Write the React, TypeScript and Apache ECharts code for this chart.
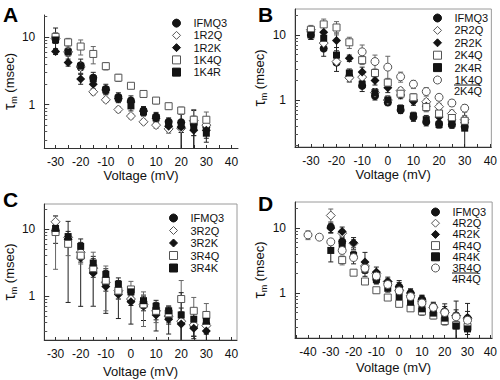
import React, { useEffect, useRef } from 'react';
import * as echarts from 'echarts';

// ---------- data ----------
const voltages = [-30, -25, -20, -15, -10, -5, 0, 5, 10, 15, 20, 25, 30];
const voltagesB6 = [-10, -5, 0, 5, 10, 15, 20, 25, 30];
const voltagesD4 = [-25, -20, -15, -10, -5, 0, 5, 10, 15, 20, 25, 30];
const voltagesD6 = [-40, -35, -30, -25, -20, -15, -10, -5, 0, 5, 10, 15, 20, 25, 30];

// Panel A
const aIFMQ3 = [10, 6.1, 3.8, 2.5, 1.7, 1.3, 1.15, 0.82, 0.67, 0.56, 0.55, 0.52, 0.47];
const aIFMQ3Err = [3.5, 1.8, 0.9, 0.5, 0.3, 0.2, 0.2, 0.12, 0.1, 0.08, 0.35, 0.3, 0.1];
const a1R2Q = [9.5, 6, 3.6, 1.55, 1.18, 0.85, 0.68, 0.56, 0.5, 0.44, 0.45, 0.58, 0.5];
const a1R2QErr = [1, 0.6, 0.4, 0.15, 0.1, 0.08, 0.06, 0.05, 0.05, 0.06, 0.06, 0.1, 0.08];
const a1R2K = [6.1, 4.2, 2.4, 2.0, 1.65, 1.22, 1.1, 0.8, 0.63, 0.48, 0.47, 0.42, 0.42];
const a1R2KErr = [0.6, 0.5, 0.4, 0.3, 0.2, 0.15, 0.15, 0.1, 0.08, 0.08, 0.25, 0.2, 0.1];
const a1K4Q = [10, 8.3, 7.2, 5.6, 3.7, 2.5, 1.9, 1.44, 1.15, 0.95, 0.82, 0.6, 0.6];
const a1K4QErr = [1.5, 1.2, 1.8, 1.6, 0.45, 0.3, 0.15, 0.1, 0.12, 0.1, 0.1, 0.25, 0.18];
const a1K4R = [9, 6, 3.7, 2.4, 1.65, 1.25, 0.96, 0.78, 0.64, 0.53, 0.49, 0.47, 0.38];
const a1K4RErr = [1, 0.8, 0.5, 0.35, 0.2, 0.15, 0.15, 0.1, 0.08, 0.08, 0.1, 0.12, 0.1];

// Panel B
const bIFMQ3 = [10, 6.2, 3.75, 2.3, 1.65, 1.15, 0.92, 0.7, 0.55, 0.46, 0.43, 0.42, 0.39];
const bIFMQ3Err = [1.5, 1.5, 1.0, 0.4, 0.3, 0.15, 0.1, 0.08, 0.08, 0.06, 0.05, 0.05, 0.05];
const b2R2Q = [12, 7.5, 3.9, 2.2, 2.25, 1.3, 1.0, 1.4, 1.0, 0.94, 0.79, 0.62, 0.5];
const b2R2QErr = [1.5, 1.2, 0.5, 0.3, 0.3, 0.2, 0.15, 0.15, 0.12, 0.1, 0.1, 0.08, 0.08];
const b2R2K = [11.2, 11, 8.2, 4.4, 2.7, 2.0, 1.55, 1.2, 0.95, 0.8, 0.55, 0.5, 0.45];
const b2R2KErr = [1.5, 3, 2.5, 0.5, 0.5, 0.3, 0.25, 0.15, 0.12, 0.12, 0.08, 0.08, 0.08];
const b2K4Q = [12, 14.5, 13, 7.7, 4.1, 2.6, 1.85, 1.25, 1.1, 0.78, 0.62, 0.53, 0.48];
const b2K4QErr = [2, 3, 3, 1.5, 0.6, 0.4, 0.3, 0.2, 0.15, 0.12, 0.1, 0.08, 0.08];
const b2K4R = [10, 8.9, 4.9, 2.6, 1.75, 1.3, 1.0, 0.74, 0.57, 0.5, 0.42, 0.43, 0.37];
const b2K4RErr = [1.5, 2, 1.5, 0.4, 0.25, 0.2, 0.15, 0.1, 0.08, 0.08, 0.05, 0.06, 0.3];
const bRatio = [5.5, 3.9, 3.2, 2.28, 1.75, 1.35, 1.1, 0.9, 0.75];
const bRatioErr = [1.5, 1.0, 1.5, 0.4, 0.25, 0.2, 0.12, 0.1, 0.1];

// Panel C
const cIFMQ3 = [9.1, 6.9, 3.9, 2.3, 1.55, 1.16, 0.87, 0.73, 0.58, 0.49, 0.41, 0.35, 0.38];
const cIFMQ3Err = [3, 6.1, 3.2, 1.6, 1.0, 0.7, 0.49, 0.3, 0.28, 0.22, 0.25, 0.1, 0.1];
const c3R2Q = [12.8, 7.5, 4.5, 2.6, 1.6, 1.2, 0.9, 0.75, 0.6, 0.5, 0.42, 0.37, 0.36];
const c3R2QErr = [3, 1, 0.6, 0.3, 0.2, 0.12, 0.1, 0.1, 0.08, 0.06, 0.05, 0.05, 0.05];
const c3R2K = [9.5, 7, 3.7, 2.2, 1.38, 1.05, 0.82, 0.7, 0.52, 0.45, 0.38, 0.33, 0.3];
const c3R2KErr = [1, 1, 0.5, 0.3, 0.2, 0.15, 0.1, 0.1, 0.08, 0.07, 0.2, 0.1, 0.08];
const c3R4Q = [9, 6, 4, 2.6, 1.7, 1.2, 1.25, 0.75, 0.6, 0.55, 0.9, 0.6, 0.52];
const c3R4QErr = [6.5, 2, 1, 1.9, 1.1, 0.3, 0.4, 0.4, 0.2, 0.15, 0.8, 0.35, 0.25];
const c3R4K = [10.2, 7.7, 5.5, 3.1, 2.1, 1.5, 1.15, 0.85, 0.7, 0.6, 0.52, 0.45, 0.42];
const c3R4KErr = [1.5, 1.5, 0.8, 0.5, 0.3, 0.2, 0.15, 0.12, 0.1, 0.08, 0.6, 0.2, 0.15];

// Panel D
const dIFMQ3 = [10.3, 6.2, 3.6, 2.4, 1.62, 1.4, 1.25, 1.0, 0.8, 0.62, 0.52, 0.45, 0.41];
const dIFMQ3Err = [2, 1.5, 0.8, 0.4, 0.25, 0.2, 0.3, 0.15, 0.12, 0.1, 0.1, 0.3, 0.28];
const d4R2Q = [15.5, 8.3, 5.8, 2.6, 2.0, 1.5, 1.1, 0.9, 0.75, 0.6, 0.5, 0.45, 0.4];
const d4R2QErr = [4, 1.2, 0.8, 0.3, 0.2, 0.15, 0.1, 0.1, 0.08, 0.06, 0.05, 0.05, 0.05];
const d4R2K = [10, 8.8, 5.9, 3.0, 2.1, 1.5, 1.25, 1.0, 0.8, 0.6, 0.53, 0.45, 0.42];
const d4R2KErr = [1.5, 1.5, 1.2, 1.2, 0.4, 0.25, 0.2, 0.15, 0.12, 0.1, 0.15, 0.1, 0.1];
const d4R4Q = [3.2, 2.05, 1.5, 1.1, 0.85, 0.68, 0.58, 0.52, 0.45, 0.37, 0.32, 0.3];
const d4R4QErr = [0.5, 0.2, 0.15, 0.1, 0.08, 0.06, 0.05, 0.07, 0.05, 0.05, 0.04, 0.04];
const d4R4K = [4.5, 5.2, 3.8, 2.3, 1.6, 1.18, 0.88, 0.72, 0.57, 0.49, 0.41, 0.31, 0.28];
const d4R4KErr = [1.5, 1, 0.5, 0.3, 0.2, 0.15, 0.1, 0.08, 0.06, 0.05, 0.05, 0.15, 0.05];
const dRatio = [7.8, 7.2, 6.1, 4.5, 3.5, 2.4, 1.82, 1.35, 1.08, 0.88, 0.7, 0.6, 0.5, 0.43, 0.38];
const dRatioErr = [1.2, 0.6, 0.6, 0.5, 0.3, 0.2, 0.15, 0.1, 0.08, 0.06, 0.05, 0.04, 0.04, 0.04, 0.03];

// tick labels
const xLabelsABC = [-30, -20, -10, 0, 10, 20, 30, 40];
const xLabelsD = [-40, -30, -20, -10, 0, 10, 20, 30, 40];
const xTicks = [-45, -40, -35, -30, -25, -20, -15, -10, -5, 0, 5, 10, 15, 20, 25, 30, 35, 40];
const yMajor = [1, 10];
const yMinor = [0.2, 0.3, 0.4, 0.5, 0.6, 0.7, 0.8, 0.9, 2, 3, 4, 5, 6, 7, 8, 9, 20];

// ---------- styles ----------
const FONT = '"Liberation Sans", Arial, Helvetica, sans-serif';
const INK = '#141414';
type Sty = { symbol: string; size: number; fill: string; border: string; bar: string };
const ST: Record<string, Sty> = {
  circleF: { symbol: 'circle', size: 8, fill: INK, border: INK, bar: '#222' },
  diamondO: { symbol: 'diamond', size: 9, fill: '#fff', border: '#555', bar: '#666' },
  diamondF: { symbol: 'diamond', size: 9, fill: INK, border: INK, bar: '#222' },
  squareO: { symbol: 'rect', size: 7, fill: '#fff', border: '#555', bar: '#666' },
  squareF: { symbol: 'rect', size: 7, fill: INK, border: INK, bar: '#222' },
  circleO: { symbol: 'circle', size: 8, fill: '#fff', border: '#555', bar: '#666' },
};

type SeriesDef = { name: string; xs: number[]; ys: number[]; es: number[]; st: Sty };
type Panel = {
  letter: string;
  grid: { left: number; top: number; width: number; height: number; show: boolean };
  xMin: number; xMax: number; yMin: number; yMax: number;
  xLabels: number[]; xNameGap: number;
  legend: { left: number; top: number; row: number };
  frac?: { num: string; den: string };
  series: SeriesDef[];
};

const panels: Panel[] = [
  {
    letter: 'A',
    grid: { left: 40, top: 15, width: 198, height: 133, show: false },
    xMin: -34.5, xMax: 42.6, yMin: 0.23, yMax: 21,
    xLabels: xLabelsABC, xNameGap: 20,
    legend: { left: 172, top: 17, row: 12.25 },
    series: [
      { name: 'IFMQ3', xs: voltages, ys: aIFMQ3, es: aIFMQ3Err, st: ST.circleF },
      { name: '1R2Q', xs: voltages, ys: a1R2Q, es: a1R2QErr, st: ST.diamondO },
      { name: '1R2K', xs: voltages, ys: a1R2K, es: a1R2KErr, st: ST.diamondF },
      { name: '1K4Q', xs: voltages, ys: a1K4Q, es: a1K4QErr, st: ST.squareO },
      { name: '1K4R', xs: voltages, ys: a1K4R, es: a1K4RErr, st: ST.squareF },
    ],
  },
  {
    letter: 'B',
    grid: { left: 295, top: 9, width: 197, height: 138, show: true },
    xMin: -36.2, xMax: 40.4, yMin: 0.19, yMax: 25,
    xLabels: xLabelsABC, xNameGap: 19,
    legend: { left: 433, top: 11.8, row: 12.4 },
    frac: { num: '1K4Q', den: '2K4Q' },
    series: [
      { name: 'IFMQ3', xs: voltages, ys: bIFMQ3, es: bIFMQ3Err, st: ST.circleF },
      { name: '2R2Q', xs: voltages, ys: b2R2Q, es: b2R2QErr, st: ST.diamondO },
      { name: '2R2K', xs: voltages, ys: b2R2K, es: b2R2KErr, st: ST.diamondF },
      { name: '2K4Q', xs: voltages, ys: b2K4Q, es: b2K4QErr, st: ST.squareO },
      { name: '2K4R', xs: voltages, ys: b2K4R, es: b2K4RErr, st: ST.squareF },
      { name: '1K4Q/2K4Q', xs: voltagesB6, ys: bRatio, es: bRatioErr, st: ST.circleO },
    ],
  },
  {
    letter: 'C',
    grid: { left: 40, top: 204, width: 197, height: 136, show: true },
    xMin: -34.5, xMax: 42.2, yMin: 0.22, yMax: 23.6,
    xLabels: xLabelsABC, xNameGap: 25,
    legend: { left: 169, top: 211.75, row: 12.5 },
    series: [
      { name: 'IFMQ3', xs: voltages, ys: cIFMQ3, es: cIFMQ3Err, st: ST.circleF },
      { name: '3R2Q', xs: voltages, ys: c3R2Q, es: c3R2QErr, st: ST.diamondO },
      { name: '3R2K', xs: voltages, ys: c3R2K, es: c3R2KErr, st: ST.diamondF },
      { name: '3R4Q', xs: voltages, ys: c3R4Q, es: c3R4QErr, st: ST.squareO },
      { name: '3R4K', xs: voltages, ys: c3R4K, es: c3R4KErr, st: ST.squareF },
    ],
  },
  {
    letter: 'D',
    grid: { left: 295, top: 202, width: 198, height: 136, show: true },
    xMin: -45.7, xMax: 40.8, yMin: 0.203, yMax: 25,
    xLabels: xLabelsD, xNameGap: 23,
    legend: { left: 431, top: 206.4, row: 11.2 },
    frac: { num: '3R4Q', den: '4R4Q' },
    series: [
      { name: 'IFMQ3', xs: voltages, ys: dIFMQ3, es: dIFMQ3Err, st: ST.circleF },
      { name: '4R2Q', xs: voltages, ys: d4R2Q, es: d4R2QErr, st: ST.diamondO },
      { name: '4R2K', xs: voltages, ys: d4R2K, es: d4R2KErr, st: ST.diamondF },
      { name: '4R4Q', xs: voltagesD4, ys: d4R4Q, es: d4R4QErr, st: ST.squareO },
      { name: '4R4K', xs: voltages, ys: d4R4K, es: d4R4KErr, st: ST.squareF },
      { name: '3R4Q/4R4Q', xs: voltagesD6, ys: dRatio, es: dRatioErr, st: ST.circleO },
    ],
  },
];

const LEG_ICON = 8;
const LEG_TEXT_PAD = 8;

function buildOption(): any {
  const grid: any[] = [];
  const xAxis: any[] = [];
  const yAxis: any[] = [];
  const series: any[] = [];
  const legend: any[] = [];
  const graphic: any[] = [];

  panels.forEach((p, pi) => {
    grid.push({ ...p.grid, borderColor: '#9a9a9a', borderWidth: 1 });
    xAxis.push({
      type: 'value', gridIndex: pi, min: p.xMin, max: p.xMax,
      name: 'Voltage (mV)', nameLocation: 'middle', nameGap: p.xNameGap,
      nameTextStyle: { fontSize: 13, color: '#111', fontFamily: FONT },
      axisLine: { show: true, onZero: false, lineStyle: { color: '#333', width: 1 } },
      axisTick: { show: true, inside: true, length: 3, customValues: xTicks, lineStyle: { color: '#333' } },
      axisLabel: { customValues: p.xLabels, margin: 8, fontSize: 12, color: '#111', fontFamily: FONT },
      splitLine: { show: false },
    });
    yAxis.push({
      type: 'log', logBase: 10, gridIndex: pi, position: 'left', min: p.yMin, max: p.yMax,
      name: '{t|τ}{s|m} (msec)', nameLocation: 'middle', nameGap: 20, nameRotate: 90,
      nameTextStyle: {
        fontSize: 13, color: '#111', fontFamily: FONT,
        rich: {
          t: { fontSize: 16, color: '#111', fontFamily: FONT, lineHeight: 18 },
          s: { fontSize: 9, color: '#111', fontFamily: FONT, verticalAlign: 'bottom', lineHeight: 9 },
        },
      },
      axisLine: { show: true, onZero: false, lineStyle: { color: '#333', width: 1 } },
      axisTick: { show: true, inside: true, length: 5, customValues: yMajor, lineStyle: { color: '#333' } },
      axisLabel: { customValues: yMajor, margin: 9, fontSize: 12, color: '#111', fontFamily: FONT, formatter: (v: number) => String(v) },
      splitLine: { show: false },
    });
    yAxis.push({
      type: 'log', logBase: 10, gridIndex: pi, position: 'left', min: p.yMin, max: p.yMax,
      axisLine: { show: false, onZero: false },
      axisTick: { show: true, inside: true, length: 3, customValues: yMinor, lineStyle: { color: '#555' } },
      axisLabel: { show: false },
      splitLine: { show: false },
    });

    // error bars (below symbols)
    p.series.forEach((s) => {
      const data = s.xs.map((x, i) => {
        const lo = s.ys[i] - s.es[i];
        const clamped = lo <= p.yMin;
        const hi = Math.min(s.ys[i] + s.es[i], p.yMax);
        return [x, clamped ? p.yMin : lo, hi, clamped ? 1 : 0];
      });
      const color = s.st.bar;
      series.push({
        type: 'custom', name: s.name + ' err', xAxisIndex: pi, yAxisIndex: pi * 2, z: 2,
        silent: true, encode: { x: 0, y: [1, 2] }, data,
        renderItem: (params: any, api: any) => {
          const x = api.value(0);
          const top = api.coord([x, api.value(2)]);
          const bot = api.coord([x, api.value(1)]);
          const cl = api.value(3);
          const w = 2.5;
          const style = { stroke: color, lineWidth: 1 };
          const children: any[] = [
            { type: 'line', shape: { x1: top[0], y1: top[1], x2: bot[0], y2: bot[1] }, style },
            { type: 'line', shape: { x1: top[0] - w, y1: top[1], x2: top[0] + w, y2: top[1] }, style },
          ];
          if (!cl) children.push({ type: 'line', shape: { x1: bot[0] - w, y1: bot[1], x2: bot[0] + w, y2: bot[1] }, style });
          return { type: 'group', children };
        },
      });
    });
    p.series.forEach((s) => {
      series.push({
        type: 'scatter', name: s.name, xAxisIndex: pi, yAxisIndex: pi * 2, z: 3,
        symbol: s.st.symbol, symbolSize: s.st.size,
        itemStyle: { color: s.st.fill, borderColor: s.st.border, borderWidth: s.st.fill === '#fff' ? 1 : 0, opacity: 1 },
        data: s.xs.map((x, i) => [x, s.ys[i]]),
      });
    });

    legend.push({
      orient: 'vertical', left: p.legend.left, top: p.legend.top, padding: 0,
      itemWidth: LEG_ICON, itemHeight: LEG_ICON, itemGap: 0, selectedMode: false, symbolKeepAspect: true,
      itemStyle: { borderWidth: 1 },
      data: p.series.map((s) => s.name),
      formatter: (n: string) => (n.indexOf('/') >= 0 ? n.split('/')[0] : n),
      textStyle: { fontSize: 11, lineHeight: p.legend.row, color: '#111', fontFamily: FONT, padding: [0, 0, 0, LEG_TEXT_PAD] },
    });

    graphic.push({
      type: 'text', left: p.grid.left - 37, top: p.grid.top - (pi % 2 === 1 ? 5 : 11) + (pi >= 2 ? -4 : 0),
      style: { text: p.letter, fontSize: 21, fontWeight: 'bold', fill: '#000', fontFamily: FONT },
    });
    if (p.frac) {
      const tx = p.legend.left + LEG_ICON + 5 + LEG_TEXT_PAD;
      const rowY = p.legend.top + p.legend.row * (p.series.length - 0.5);
      graphic.push({ type: 'line', shape: { x1: tx, y1: rowY + 5, x2: tx + 26, y2: rowY + 5 }, style: { stroke: '#111', lineWidth: 1 } });
      graphic.push({ type: 'text', x: tx, y: rowY + 10.5, style: { text: p.frac.den, fontSize: 11, fill: '#111', fontFamily: FONT, textVerticalAlign: 'middle' } });
    }
  });

  return { animation: false, backgroundColor: '#fff', textStyle: { fontFamily: FONT }, grid, xAxis, yAxis, series, legend, graphic };
}

export default function App() {
  const ref = useRef<HTMLDivElement>(null);
  useEffect(() => {
    if (!ref.current) return;
    const chart = echarts.init(ref.current, undefined, { renderer: 'svg' });
    chart.setOption(buildOption());
    return () => chart.dispose();
  }, []);
  return <div ref={ref} style={{ position: 'fixed', left: 0, top: 0, width: 500, height: 380 }} />;
}
